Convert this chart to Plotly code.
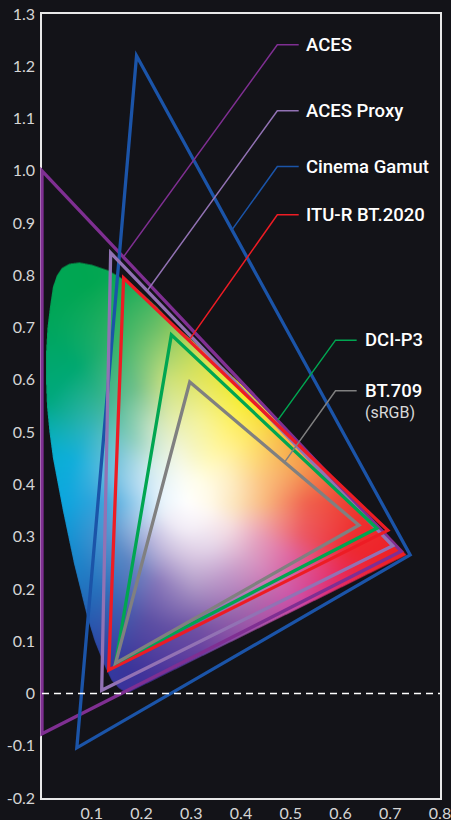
import base64, struct, zlib
import numpy as np
import plotly.graph_objects as go

BG = "#131318"
# gamut triangles (chromaticity x, y)
ACES_X = [0.0, 0.722, 0.0, 0.0]
ACES_Y = [1.0, 0.272, -0.077, 1.0]
CINEMA_X = [0.19, 0.74, 0.07, 0.19]
CINEMA_Y = [1.22, 0.265, -0.104, 1.22]
PROXY_X = [0.138, 0.705, 0.12, 0.138]
PROXY_Y = [0.843, 0.2825, 0.006, 0.843]
BT2020_X = [0.164, 0.695, 0.134, 0.164]
BT2020_Y = [0.795, 0.312, 0.045, 0.795]
P3_X = [0.26, 0.673, 0.148, 0.26]
P3_Y = [0.686, 0.316, 0.058, 0.686]
BT709_X = [0.297, 0.637, 0.148, 0.297]
BT709_Y = [0.596, 0.322, 0.058, 0.596]

# leader lines
L_ACES = ([0.516, 0.473, 0.162], [1.241, 1.241, 0.833])
L_PROXY = ([0.516, 0.473, 0.2125], [1.115, 1.115, 0.772])
L_CINEMA = ([0.516, 0.473, 0.381], [1.008, 1.008, 0.886])
L_2020 = ([0.516, 0.473, 0.295], [0.916, 0.916, 0.675])
L_P3 = ([0.6325, 0.590, 0.474], [0.676, 0.676, 0.523])
L_709 = ([0.6325, 0.590, 0.488], [0.579, 0.579, 0.443])

# outline of the coloured horseshoe
LOCUS_X = [.733,.6,.5,.4,.35,.3,.26,.23,.2,.156,.132,.1,.075,.055,.04,.03,.022,.016,.011,.008,.008,.010,.015,.022,.032,.042,.053,.064,.077,.09,.106,.125,.14,.155,.165,.176]
LOCUS_Y = [.265,.397,.497,.592,.635,.677,.709,.74,.766,.797,.81,.82,.8245,.822,.814,.80,.778,.74,.70,.65,.60,.55,.50,.45,.40,.35,.30,.25,.20,.15,.10,.055,.025,.01,.004,.003]

# colours: polar table around its white centre
WHITE_X, WHITE_Y = 0.29, 0.365
ANGLES = [0,15,30,45,60,80,100,115,130,145,160,180,200,225,250,275,300,320,335,345]
RADII = [.05,.10,.16,.24,.34,.46]
HUES = [
    ["FFF9E6","FCE4B8","F8B67C","F0624E","EE3A30","ED1C24"],
    ["FFFAE6","FDE8BE","FBC27E","F49A50","F0602F","EE3A2C"],
    ["FFFBE8","FEEFC0","FDD878","F7B044","F38B33","F38B33"],
    ["FFFCE6","FFF5BE","FFEB76","F6D62C","F6D62C","F6D62C"],
    ["FFFEEA","FFF8B4","FFF27A","F6EC20","F6EC20","F6EC20"],
    ["FCFCEC","F7F6C0","F5F39A","E4E556","CCDC3C","CCDC3C"],
    ["FAFCF4","F2F6DC","E4EDB0","C8E07C","6DC068","0DA858"],
    ["F4FAF6","E4F1E0","C8E4C4","70C08A","35B268","00A651"],
    ["F0F8F8","D8EEE8","90D0BC","48B898","00A870","00A558"],
    ["ECF6FA","C8E6F0","80C8D8","30B4C0","00A87E","00A768"],
    ["ECF6FC","B8DDF2","6FBFE0","10AEDB","00AFC6","00A98A"],
    ["E8F4FB","9CD0EE","3FA2DA","0FA5DE","00B0E4","00B0E4"],
    ["EAF0F9","A8C8E8","5A95CF","1B8DD0","0096D8","0096D8"],
    ["EDEAF6","B8B4DC","5C84C2","2A6FBB","1B55AD","1B50AB"],
    ["F0EBF6","C9BDDD","8A78BB","5A4FA4","3A349A","3A2E9E"],
    ["F4EEF7","DAC9E3","B09AC8","6F52A4","5B2E9A","5B2E9A"],
    ["F6F0F6","E4D4E8","C29ACA","A065AC","A8309F","A8309F"],
    ["FAF3F5","EFD9E4","D9A3C8","CF6AAE","CC309A","D42A88"],
    ["FCF6F2","F6DEDE","E6A0BC","E0609C","E82A60","ED1C30"],
    ["FEF8F0","F9E0CC","F0A6A8","EC5A66","EE2A30","ED1C24"],
]

TICK_X = [.1,.2,.3,.4,.5,.6,.7,.8]
TICK_X_TEXT = ["0.1","0.2","0.3","0.4","0.5","0.6","0.7","0.8"]
TICK_Y = [-.2,-.1,0,.1,.2,.3,.4,.5,.6,.7,.8,.9,1.0,1.1,1.2,1.3]
TICK_Y_TEXT = ["-0.2","-0.1","0","0.1","0.2","0.3","0.4","0.5","0.6","0.7","0.8","0.9","1.0","1.1","1.2","1.3"]


def box(a, n, axis):
    k = 2 * n + 1
    pad = [(0, 0)] * a.ndim
    pad[axis] = (n + 1, n)
    c = np.cumsum(np.pad(a, pad, mode="edge"), axis=axis)
    return (np.take(c, range(k, c.shape[axis]), axis=axis) - np.take(c, range(0, c.shape[axis] - k), axis=axis)) / k


def horseshoe_png():
    x0, x1, y0, y1 = 0.0, 0.76, -0.01, 0.84
    w, h = 378, 444
    xs = x0 + (np.arange(w) + .5) / w * (x1 - x0)
    ys = y1 - (np.arange(h) + .5) / h * (y1 - y0)
    gx, gy = np.meshgrid(xs, ys)
    table = np.array([[[int(c[i:i+2], 16) for i in (0, 2, 4)] for c in row] for row in HUES], float)
    table = np.concatenate([np.full((table.shape[0], 1, 3), 255.0), table], axis=1)
    radii = np.array([0.0] + RADII)
    ang = np.array(ANGLES + [360.0])
    table = np.concatenate([table, table[:1]], axis=0)
    dx, dy = gx - WHITE_X, gy - WHITE_Y
    r = np.hypot(dx, dy)
    th = np.degrees(np.arctan2(dy, dx)) % 360
    ia = np.clip(np.searchsorted(ang, th, side="right") - 1, 0, len(ang) - 2)
    fa = ((th - ang[ia]) / (ang[ia + 1] - ang[ia]))[..., None]
    ir = np.clip(np.searchsorted(radii, r, side="right") - 1, 0, len(radii) - 2)
    fr = np.clip((r - radii[ir]) / (radii[ir + 1] - radii[ir]), 0, 1)[..., None]
    c0 = table[ia, ir] * (1 - fa) + table[ia + 1, ir] * fa
    c1 = table[ia, ir + 1] * (1 - fa) + table[ia + 1, ir + 1] * fa
    rgb = c0 * (1 - fr) + c1 * fr
    for _ in range(3):
        rgb = box(box(rgb, 4, 0), 4, 1)
    # soft-edged mask
    s = 3
    xs3 = x0 + (np.arange(w * s) + .5) / (w * s) * (x1 - x0)
    ys3 = y1 - (np.arange(h * s) + .5) / (h * s) * (y1 - y0)
    mx, my = np.meshgrid(xs3, ys3)
    px, py = np.array(LOCUS_X), np.array(LOCUS_Y)
    inside = np.zeros(mx.shape, bool)
    for i in range(len(px)):
        a, b = i, (i + 1) % len(px)
        if py[a] == py[b]:
            continue
        cond = (py[a] > my) != (py[b] > my)
        xint = px[a] + (my - py[a]) * (px[b] - px[a]) / (py[b] - py[a])
        inside ^= cond & (mx < xint)
    alpha = inside.reshape(h, s, w, s).mean(axis=(1, 3))
    rgba = np.dstack([rgb, alpha * 255]).round().clip(0, 255).astype(np.uint8)
    raw = b"".join(b"\x00" + rgba[row].tobytes() for row in range(h))

    def chunk(t, d):
        return struct.pack(">I", len(d)) + t + d + struct.pack(">I", zlib.crc32(t + d))

    png = b"\x89PNG\r\n\x1a\n" + chunk(b"IHDR", struct.pack(">IIBBBBB", w, h, 8, 6, 0, 0, 0)) + chunk(b"IDAT", zlib.compress(raw, 9)) + chunk(b"IEND", b"")
    return "data:image/png;base64," + base64.b64encode(png).decode(), x0, y1, x1 - x0, y1 - y0


src, ix, iy, isx, isy = horseshoe_png()

fig = go.Figure()
TRI = [
    ("ACES", ACES_X, ACES_Y, "#7F2F92"),
    ("Cinema Gamut", CINEMA_X, CINEMA_Y, "#1B54A8"),
    ("ACES Proxy", PROXY_X, PROXY_Y, "#9272B4"),
    ("ITU-R BT.2020", BT2020_X, BT2020_Y, "#ED1C24"),
    ("DCI-P3", P3_X, P3_Y, "#00A651"),
    ("BT.709", BT709_X, BT709_Y, "#808080"),
]
for name, x, y, c in TRI:
    fig.add_trace(go.Scatter(x=x + [x[1]], y=y + [y[1]], mode="lines", name=name,
                             line=dict(color=c, width=3.3), hoverinfo="skip"))
fig.add_trace(go.Scatter(x=[0, 0.8], y=[0, 0], mode="lines", line=dict(color="#FFFFFF", width=1.5, dash="7px,5px"), hoverinfo="skip"))
LEAD = [(L_ACES, "#7F2F92"), (L_PROXY, "#9272B4"), (L_CINEMA, "#1B54A8"), (L_2020, "#ED1C24"), (L_P3, "#00A651"), (L_709, "#808080")]
for (lx, ly), c in LEAD:
    fig.add_trace(go.Scatter(x=lx, y=ly, mode="lines", line=dict(color=c, width=1.5), hoverinfo="skip"))

LFONT = "Roboto, sans-serif"
labels = [("ACES", .530, 1.241), ("ACES Proxy", .530, 1.115), ("Cinema Gamut", .530, 1.008),
          ("ITU-R BT.2020", .530, .916), ("DCI-P3", .6487, .676), ("BT.709", .6487, .579)]
for t, x, y in labels:
    fig.add_annotation(x=x, y=y, text=t, showarrow=False, xanchor="left", yanchor="middle", xshift=-2,
                       font=dict(family=LFONT, size=18.5, color="#FFFFFF", weight=500))
fig.add_annotation(x=.6487, y=.538, text="(sRGB)", showarrow=False, xanchor="left", yanchor="middle", xshift=-2,
                   font=dict(family=LFONT, size=16, color="#D8D8D8"))

fig.update_layout(
    width=451, height=820, margin=dict(l=42, r=11, t=14, b=22, autoexpand=False),
    paper_bgcolor=BG, plot_bgcolor=BG, showlegend=False,
    images=[dict(source=src, xref="x", yref="y", x=ix, y=iy, sizex=isx, sizey=isy,
                 sizing="stretch", xanchor="left", yanchor="top", layer="below")],
)
AXF = dict(family="Lato, Open Sans, sans-serif", size=16, color="#D5D5D5")
fig.update_xaxes(range=[0, .8], tickvals=TICK_X, ticktext=TICK_X_TEXT, showgrid=False, zeroline=False, automargin=False, layer="below traces",
                 showline=True, mirror=True, linecolor="#E8E8E8", linewidth=1.5, ticks="", tickfont=AXF, ticklabelstandoff=0, ticklabeloverflow="allow")
fig.update_yaxes(range=[-.2, 1.3], tickvals=TICK_Y, ticktext=TICK_Y_TEXT, showgrid=False, zeroline=False, automargin=False, layer="below traces",
                 showline=True, mirror=True, linecolor="#E8E8E8", linewidth=1.5, ticks="", tickfont=AXF, ticklabelstandoff=2, ticklabeloverflow="allow")
POST = """
document.documentElement.style.background='%s';document.body.style.margin='0';document.body.style.background='%s';document.documentElement.style.overflow='hidden';
document.querySelectorAll('.scatterlayer [clip-path], .plot[clip-path], .overplot [clip-path]').forEach(function(e){e.removeAttribute('clip-path');});
document.querySelectorAll('.js-line').forEach(function(p){p.style.strokeLinejoin='miter';p.style.strokeMiterlimit='12';});
""" % (BG, BG)
fig.write_html("out.html", config={"displayModeBar": False}, post_script=POST)
